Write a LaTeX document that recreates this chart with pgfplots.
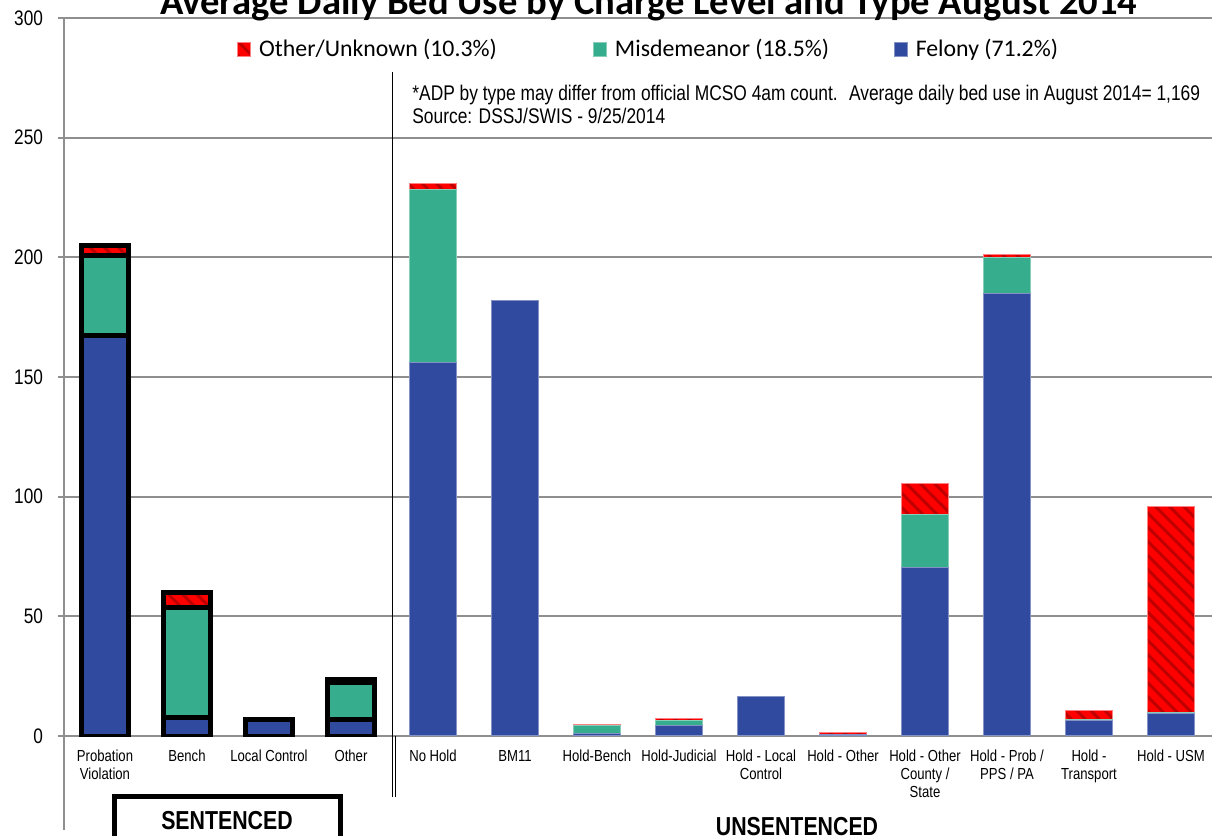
\documentclass[border=0pt]{standalone}
\usepackage{fontspec}
\setmainfont{Liberation Sans}
\newfontfamily\narrow{Liberation Sans}[FakeStretch=0.82]
\newfontfamily\calibri{Carlito}
\usepackage{pgfplots}
\pgfplotsset{compat=1.18}
\usetikzlibrary{patterns.meta}

\definecolor{felblue}{HTML}{2F4A9F}
\definecolor{misgreen}{HTML}{36AD8C}
\definecolor{othred}{HTML}{FF0000}
\definecolor{stripe}{HTML}{C00000}
\definecolor{gridgray}{HTML}{8F8F8F}

\pgfplotsset{
  redfill/.style={fill=othred,
    postaction={pattern={Lines[angle=-45,distance=5pt,line width=1.5pt]},pattern color=stripe}},
  common/.style={
    at={(0,0)}, anchor=south west,
    scale only axis, width=574pt, height=359pt,
    xmin=-0.5, xmax=13.5, ymin=0, ymax=300,
    ybar stacked, bar width=23.5pt,
  }
}

\begin{document}
\begin{tikzpicture}
\path[use as bounding box] (-32pt,-50pt) rectangle (574pt,368pt);

%% sentenced bars, grid and ticks
\begin{axis}[common,
  axis x line*=bottom, axis y line*=left,
  axis line style={draw=gridgray, line width=1pt},
  ymajorgrids, grid style={draw=gridgray, line width=1pt},
  ytick={0,50,...,300},
  xtick={0,...,13},
  xticklabels={{Probation\\Violation},Bench,Local Control,Other,No Hold,BM11,
    Hold-Bench,Hold-Judicial,{Hold - Local\\Control},Hold - Other,
    {Hold - Other\\County /\\State},{Hold - Prob /\\PPS / PA},{Hold -\\Transport},Hold - USM},
  tick align=outside,
  major tick length=3pt,
  xtick style={draw=none},
  ytick style={draw=gridgray, line width=1pt},
  /pgf/number format/assume math mode=true,
  xticklabel style={font=\narrow\fontsize{8}{9}\selectfont, align=center, yshift=-0.5pt},
  yticklabel style={font=\narrow\fontsize{10.5}{12}\selectfont, xshift=-4pt},
  sent/.style={draw=black, line width=2.5pt},
]
\addplot[sent, fill=felblue] coordinates {(0,167.4) (1,7.7) (2,6.7) (3,6.7)};
\addplot[sent, fill=misgreen] coordinates {(0,33.4) (1,45.8) (2,0) (3,15.7)};
\addplot[sent, redfill] coordinates {(0,4.2) (1,6.5) (2,0) (3,1.2)};
\end{axis}

%% unsentenced bars and legend
\begin{axis}[common, hide axis,
  legend style={at={(0.1507,0.9568)}, anchor=west, draw=none, fill=none,
    inner sep=0pt, legend columns=3,
    font=\calibri\fontsize{11.9}{13}\selectfont,
    /tikz/every odd column/.append style={column sep=2pt}},
  reverse legend,
  legend image code/.code={\draw[#1, line width=0.4pt] (0pt,-3.5pt) rectangle (6.5pt,3.5pt);},
]
\addplot[fill=felblue, draw=felblue!60!white, line width=0.5pt] coordinates {
  (4,156) (5,182) (6,1) (7,4.3) (8,16.7) (9,0.8) (10,70.5) (11,185) (12,6.3) (13,9.5)};
\addlegendentry{Felony (71.2\%)}
\addplot[fill=misgreen, draw=misgreen!60!white, line width=0.5pt] coordinates {
  (4,72.5) (5,0) (6,3.5) (7,2) (8,0) (9,0) (10,22) (11,15) (12,0.5) (13,0.3)};
\addlegendentry{\makebox[137.5pt][l]{Misdemeanor (18.5\%)}}
\addplot[redfill, draw=othred!50!white, line width=0.5pt] coordinates {
  (4,2.2) (5,0) (6,0.5) (7,1.2) (8,0) (9,0.8) (10,13) (11,1.2) (12,4) (13,86)};
\addlegendentry{\makebox[165pt][l]{Other/Unknown (10.3\%)}}
\end{axis}

%% title and notes
\node[anchor=base, font=\calibri\bfseries\fontsize{19.3}{22}\selectfont]
  at (296pt,360.5pt) {Average Daily Bed Use by Charge Level and Type August 2014\textsuperscript{*}};
\node[anchor=base west, inner sep=0pt, font=\narrow\fontsize{10.6}{12}\selectfont]
  at (174pt,317.5pt) {*ADP by type may differ from official MCSO 4am count.~ Average daily bed use in August 2014= 1,169};
\node[anchor=base west, inner sep=0pt, font=\narrow\fontsize{10.6}{12}\selectfont]
  at (174pt,306pt) {Source: DSSJ/SWIS - 9/25/2014};

%% separators and group labels
\draw[gridgray, line width=1pt] (0pt,0pt) -- (0pt,-47pt);
\draw[black, line width=0.5pt] (164pt,332pt) -- (164pt,-30.5pt);
\draw[black, line width=0.5pt] (165.6pt,0pt) -- (165.6pt,-30.5pt);
\draw[black, line width=2.5pt] (25.5pt,-55pt) -- (25.5pt,-30.5pt) -- (138pt,-30.5pt) -- (138pt,-55pt);
\node[font=\narrow\bfseries\fontsize{13}{15}\selectfont, anchor=base] at (81.5pt,-47pt) {SENTENCED};
\node[font=\narrow\bfseries\fontsize{13}{15}\selectfont, anchor=base] at (366.5pt,-49.5pt) {UNSENTENCED};
\end{tikzpicture}
\end{document}
